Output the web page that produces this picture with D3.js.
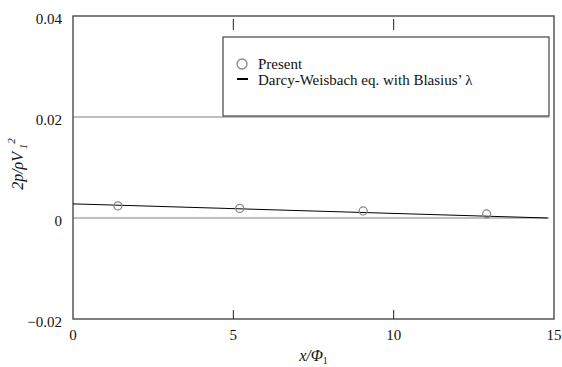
<!DOCTYPE html>
<html>
<head>
<meta charset="utf-8">
<script src="https://cdn.jsdelivr.net/npm/d3@7"></script>
<style>
  body { margin: 0; background: #fff; }
  text { font-family: "Liberation Serif", "Times New Roman", serif; fill: #111; }
</style>
</head>
<body>
<div id="chart"></div>
<script>
// measured points (Present)
const presentX = [1.4, 5.2, 9.05, 12.9];
const presentY = [0.0024, 0.0019, 0.0014, 0.0008];

// Darcy-Weisbach with Blasius' lambda
const theoryX = [0, 14.8];
const theoryY = [0.0028, 0.0];

const xTicks = [0, 5, 10, 15];
const yTicks = [-0.02, 0, 0.02, 0.04];
const gridY = [0, 0.02];

const legendLabels = ["Present", "Darcy-Weisbach eq. with Blasius\u2019 \u03bb"];

const W = 562, H = 367;
const margin = {top: 16, right: 8, bottom: 48, left: 73};
const w = W - margin.left - margin.right;
const h = H - margin.top - margin.bottom;

const svg = d3.select("#chart").append("svg")
    .attr("width", W)
    .attr("height", H);

const g = svg.append("g")
    .attr("transform", "translate(" + margin.left + "," + margin.top + ")");

const x = d3.scaleLinear().domain([0, 15]).range([0, w]);
const y = d3.scaleLinear().domain([-0.02, 0.04]).range([h, 0]);

// gridlines
g.selectAll(".grid").data(gridY).enter().append("line")
    .attr("x1", 0).attr("x2", w - 5)
    .attr("y1", d => y(d)).attr("y2", d => y(d))
    .attr("stroke", "#aaa").attr("stroke-width", 1.5);

// frame
g.append("rect")
    .attr("width", w).attr("height", h)
    .attr("fill", "none").attr("stroke", "#555").attr("stroke-width", 1.5);

// inward ticks on bottom and top
const inner = xTicks.filter(d => d > 0 && d < 15);
g.selectAll(".tb").data(inner).enter().append("line")
    .attr("x1", d => x(d)).attr("x2", d => x(d))
    .attr("y1", h).attr("y2", h - 9)
    .attr("stroke", "#222");
g.selectAll(".tt").data(inner).enter().append("line")
    .attr("x1", d => x(d)).attr("x2", d => x(d))
    .attr("y1", 3).attr("y2", 14)
    .attr("stroke", "#222");

// tick labels
g.selectAll(".xl").data(xTicks).enter().append("text")
    .attr("x", d => x(d)).attr("y", h + 21)
    .attr("text-anchor", "middle")
    .attr("font-size", 15)
    .text(d => d);

g.selectAll(".yl").data(yTicks).enter().append("text")
    .attr("x", -11).attr("y", d => y(d) + 8)
    .attr("text-anchor", "end")
    .attr("font-size", 15)
    .text(d => d === 0 ? "0" : d3.format(".2f")(d));

// legend box
const leg = g.append("g").attr("transform", "translate(" + (223 - margin.left) + "," + (37 - margin.top) + ")");
leg.append("rect")
    .attr("width", 326).attr("height", 79)
    .attr("fill", "#fff").attr("stroke", "#444").attr("stroke-width", 1.2);
leg.append("circle")
    .attr("cx", 19).attr("cy", 27).attr("r", 5)
    .attr("fill", "none").attr("stroke", "#888").attr("stroke-width", 1.3);
leg.append("line")
    .attr("x1", 14).attr("x2", 25).attr("y1", 42).attr("y2", 42)
    .attr("stroke", "#000").attr("stroke-width", 2);
leg.selectAll(".lt").data(legendLabels).enter().append("text")
    .attr("x", 35).attr("y", (d, i) => 32 + i * 16)
    .attr("font-size", 15)
    .text(d => d);

// theory line
const line = d3.line().x(d => x(d[0])).y(d => y(d[1]));
g.append("path")
    .datum(d3.zip(theoryX, theoryY))
    .attr("d", line)
    .attr("fill", "none").attr("stroke", "#000").attr("stroke-width", 1);

// present points
g.selectAll(".pt").data(d3.zip(presentX, presentY)).enter().append("circle")
    .attr("cx", d => x(d[0])).attr("cy", d => y(d[1]))
    .attr("r", 4)
    .attr("fill", "none")
    .attr("stroke", "#888").attr("stroke-width", 1.3);

// axis titles
const xt = svg.append("text")
    .attr("x", margin.left + w / 2).attr("y", H - 6)
    .attr("text-anchor", "middle")
    .attr("font-size", 16).attr("font-style", "italic");
xt.append("tspan").text("x/\u03a6");
xt.append("tspan").attr("font-size", 10).attr("font-style", "normal").attr("dy", 3).text("1");

const yt = svg.append("text")
    .attr("transform", "translate(23," + (margin.top + 148) + ") rotate(-90)")
    .attr("text-anchor", "middle")
    .attr("font-size", 16).attr("font-style", "italic");
yt.append("tspan").text("2p/\u03c1V");
yt.append("tspan").attr("font-size", 11).attr("dy", 4).text(" 1");
yt.append("tspan").attr("font-size", 11).attr("dy", -12).text("2");
</script>
</body>
</html>
